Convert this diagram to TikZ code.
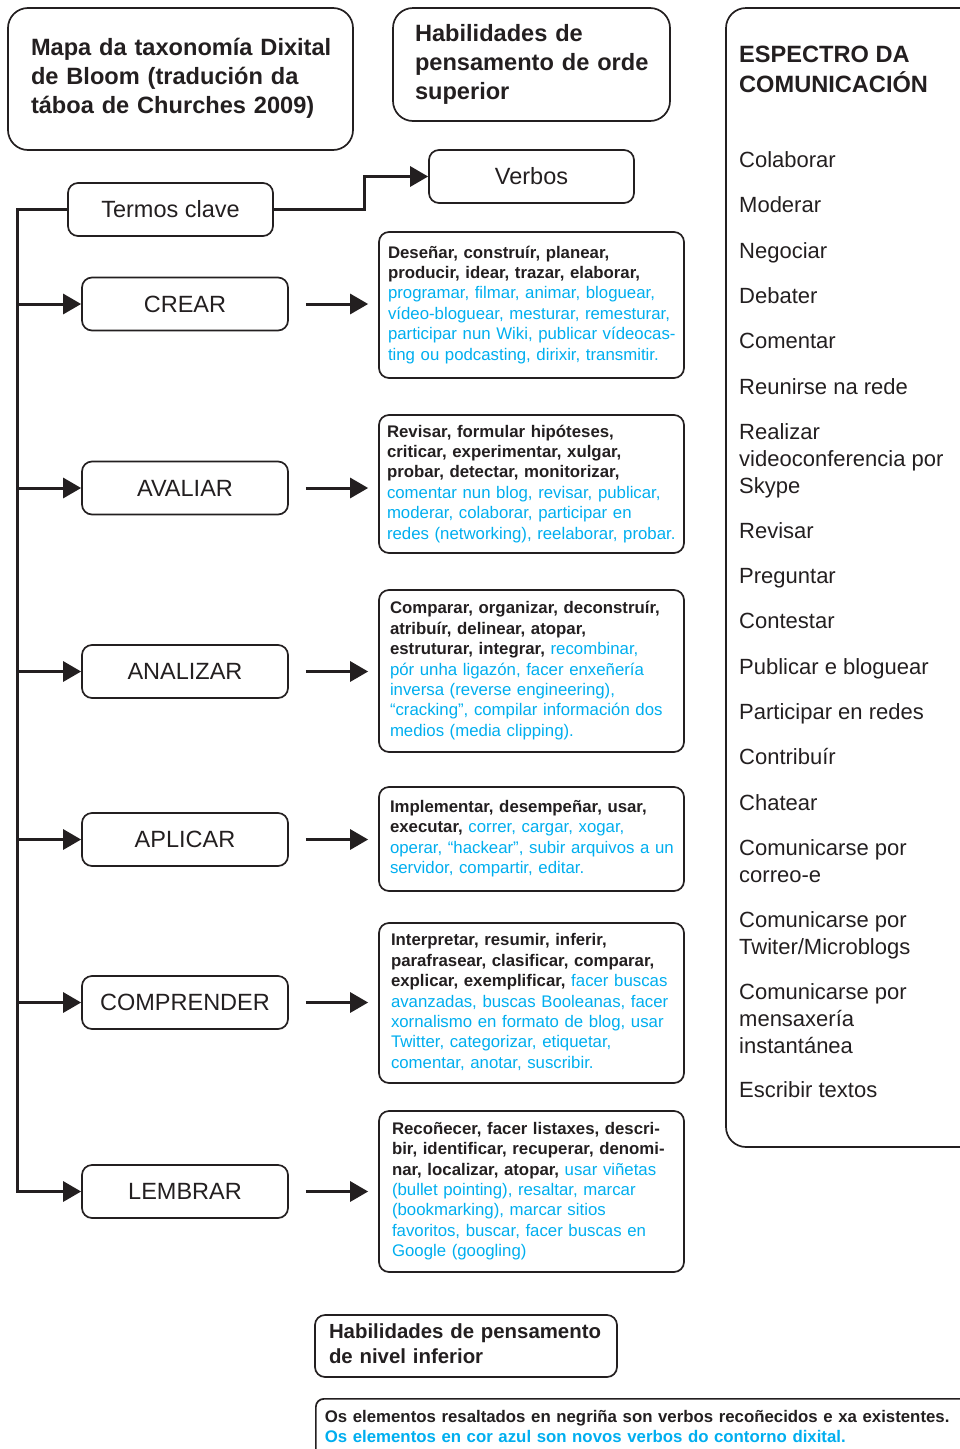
\documentclass[tikz,border=0pt]{standalone}
\usepackage{fontspec}
\setmainfont{Liberation Sans}
\usetikzlibrary{arrows.meta}
\definecolor{ink}{RGB}{35,31,32}
\definecolor{newverb}{RGB}{0,174,239}
% new digital-era verbs are set in blue
\newcommand{\nv}[1]{{\color{newverb}#1}}
% a block of lines broken only where \\ says
\newcommand{\lines}[1]{\begin{tabular}{@{}l@{}}#1\end{tabular}}

\begin{document}
\begin{tikzpicture}[x=1pt,y=-1pt,
  every node/.style={text=ink},
  box/.style={draw=ink, line width=1.7pt, rounded corners=10pt},
  bigbox/.style={box, rounded corners=20pt},
  keyword/.style={box, minimum width=206pt, minimum height=53pt, inner sep=0pt,
    font=\fontsize{23.5}{28}\selectfont},
  verbbox/.style={box, text width=287pt, inner xsep=9pt, inner ysep=0pt, align=left,
    font=\fontsize{16.8}{20.4}\selectfont},
  heading/.style={align=left, inner ysep=0pt, font=\bfseries\fontsize{23.6}{29}\selectfont},
  link/.style={draw=ink, line width=3pt},
  tip/.style={-{Triangle[length=18pt,width=20pt]}},
  item/.style={anchor=west, inner sep=0pt, align=left, font=\fontsize{22}{27}\selectfont},
]
\useasboundingbox (0,0) rectangle (960,1449);
\clip (0,0) rectangle (960,1449);

% ---- headings ----
\node[bigbox, heading, minimum width=345pt, minimum height=142pt, text width=299pt, inner xsep=23pt]
  (title) at (180.5,79) {\lines{Mapa da taxonomía Dixital\\de Bloom (tradución da\\táboa de Churches 2009)}};
\node[bigbox, heading, minimum width=277pt, minimum height=113pt, text width=233pt, inner xsep=22pt]
  (higher) at (531.5,64.5) {\lines{Habilidades de\\pensamento de orde\\superior}};

% ---- communication spectrum panel ----
\node[bigbox, minimum width=274pt, minimum height=1139pt] (spectrum) at (863,577.5) {};
\node[item, font=\bfseries\fontsize{23.6}{29}\selectfont] (spechead) at (739,72)
  {\lines{ESPECTRO DA\\COMUNICACIÓN}};
\node[item] (s1)  at (739,162)  {\lines{Colaborar}};
\node[item] (s2)  at (739,207)  {\lines{Moderar}};
\node[item] (s3)  at (739,253)  {\lines{Negociar}};
\node[item] (s4)  at (739,298)  {\lines{Debater}};
\node[item] (s5)  at (739,343)  {\lines{Comentar}};
\node[item] (s6)  at (739,389)  {\lines{Reunirse na rede}};
\node[item] (s7)  at (739,461)  {\lines{Realizar\\videoconferencia por\\Skype}};
\node[item] (s8)  at (739,533)  {\lines{Revisar}};
\node[item] (s9)  at (739,578)  {\lines{Preguntar}};
\node[item] (s10) at (739,623)  {\lines{Contestar}};
\node[item] (s11) at (739,669)  {\lines{Publicar e bloguear}};
\node[item] (s12) at (739,714)  {\lines{Participar en redes}};
\node[item] (s13) at (739,759)  {\lines{Contribuír}};
\node[item] (s14) at (739,805)  {\lines{Chatear}};
\node[item] (s15) at (739,863.5) {\lines{Comunicarse por\\correo-e}};
\node[item] (s16) at (739,935.5) {\lines{Comunicarse por\\Twiter/Microblogs}};
\node[item] (s17) at (739,1021) {\lines{Comunicarse por\\mensaxería\\instantánea}};
\node[item] (s18) at (739,1092) {\lines{Escribir textos}};

% ---- key terms and verbs ----
\node[keyword, minimum width=205pt] (termos) at (170.5,209.5) {Termos clave};
\node[keyword, minimum width=205pt] (verbos) at (531.5,176.5) {Verbos};

\node[keyword] (crear)      at (185,304)    {CREAR};
\node[keyword] (avaliar)    at (185,488)    {AVALIAR};
\node[keyword] (analizar)   at (185,671.5)  {ANALIZAR};
\node[keyword] (aplicar)    at (185,839.5)  {APLICAR};
\node[keyword] (comprender) at (185,1002.5) {COMPRENDER};
\node[keyword] (lembrar)    at (185,1191.5) {LEMBRAR};

\node[verbbox, minimum height=146pt] (vcrear) at (531.5,305) {\lines{%
  \textbf{Deseñar, construír, planear,}\\
  \textbf{producir, idear, trazar, elaborar,}\\
  \nv{programar, filmar, animar, bloguear,}\\
  \nv{vídeo-bloguear, mesturar, remesturar,}\\
  \nv{participar nun Wiki, publicar vídeocas-}\\
  \nv{ting ou podcasting, dirixir, transmitir.}}};

\node[verbbox, minimum height=138pt, inner xsep=8pt, text width=289pt] (vavaliar) at (531.5,484) {\lines{%
  \textbf{Revisar, formular hipóteses,}\\
  \textbf{criticar, experimentar, xulgar,}\\
  \textbf{probar, detectar, monitorizar,}\\
  \nv{comentar nun blog, revisar, publicar,}\\
  \nv{moderar, colaborar, participar en}\\
  \nv{redes (networking), reelaborar, probar.}}};

\node[verbbox, minimum height=162pt, inner xsep=11pt, text width=283pt] (vanalizar) at (531.5,671) {\lines{%
  \textbf{Comparar, organizar, deconstruír,}\\
  \textbf{atribuír, delinear, atopar,}\\
  \textbf{estruturar, integrar,} \nv{recombinar,}\\
  \nv{pór unha ligazón, facer enxeñería}\\
  \nv{inversa (reverse engineering),}\\
  \nv{“cracking”, compilar información dos}\\
  \nv{medios (media clipping).}}};

\node[verbbox, minimum height=104pt, inner xsep=11pt, text width=283pt] (vaplicar) at (531.5,839) {\lines{%
  \textbf{Implementar, desempeñar, usar,}\\
  \textbf{executar,} \nv{correr, cargar, xogar,}\\
  \nv{operar, “hackear”, subir arquivos a un}\\
  \nv{servidor, compartir, editar.}}};

\node[verbbox, minimum height=160pt, inner xsep=12pt, text width=281pt] (vcomprender) at (531.5,1003) {\lines{%
  \textbf{Interpretar, resumir, inferir,}\\
  \textbf{parafrasear, clasificar, comparar,}\\
  \textbf{explicar, exemplificar,} \nv{facer buscas}\\
  \nv{avanzadas, buscas Booleanas, facer}\\
  \nv{xornalismo en formato de blog, usar}\\
  \nv{Twitter, categorizar, etiquetar,}\\
  \nv{comentar, anotar, suscribir.}}};

\node[verbbox, minimum height=161pt, inner xsep=13pt, text width=279pt] (vlembrar) at (531.5,1191.5) {\lines{%
  \textbf{Recoñecer, facer listaxes, descri-}\\
  \textbf{bir, identificar, recuperar, denomi-}\\
  \textbf{nar, localizar, atopar,} \nv{usar viñetas}\\
  \nv{(bullet pointing), resaltar, marcar}\\
  \nv{(bookmarking), marcar sitios}\\
  \nv{favoritos, buscar, facer buscas en}\\
  \nv{Google (googling)}}};

% ---- lower-order label and legend ----
\node[box, minimum width=302pt, minimum height=62pt, text width=274pt, inner xsep=14pt, inner ysep=0pt,
  align=left, font=\bfseries\fontsize{20.4}{25}\selectfont]
  (lower) at (466,1346) {\lines{Habilidades de pensamento\\de nivel inferior}};
\node[box, rounded corners=8pt, anchor=north west, text width=700pt, inner xsep=9pt, inner ysep=10pt,
  align=left, font=\bfseries\fontsize{16.8}{20}\selectfont]
  (legend) at (315,1398) {\lines{Os elementos resaltados en negriña son verbos recoñecidos e xa existentes.\\
  \nv{Os elementos en cor azul son novos verbos do contorno dixital.}\\ \\}};

% ---- connectors ----
\coordinate (bend) at (364,0);
\coordinate (spine) at (17,0);
\draw[link, tip] (termos.east) -- (termos.east -| bend) -- (verbos.west -| bend) -- (verbos.west);
\draw[link, tip] (termos.west) -- (termos.west -| spine) -- (lembrar.west -| spine) -- (lembrar.west);
\foreach \k in {crear, avaliar, analizar, aplicar, comprender}
  \draw[link, tip] (\k.west -| spine) -- (\k.west);
\foreach \k/\v in {crear/vcrear, avaliar/vavaliar, analizar/vanalizar, aplicar/vaplicar,
                   comprender/vcomprender, lembrar/vlembrar}
  \draw[link, tip, shorten <=17pt, shorten >=10pt] (\k.east) -- (\k.east -| \v.west);
\end{tikzpicture}
\end{document}
